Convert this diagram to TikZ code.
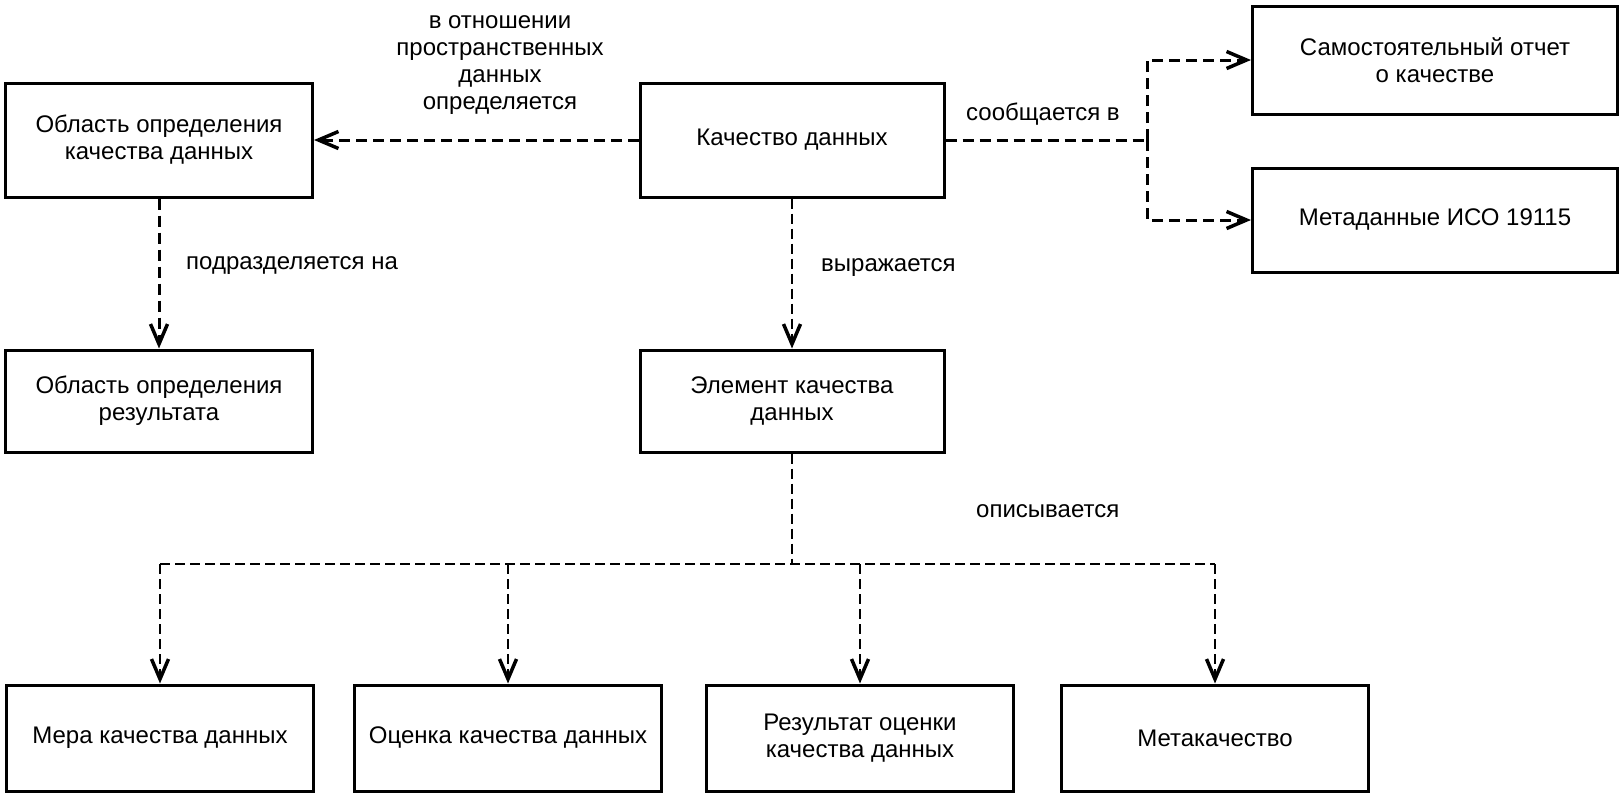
\documentclass[tikz,border=0pt]{standalone}
\usepackage{fontspec}
\setmainfont{Liberation Sans}
\usepackage{tikz}
\usetikzlibrary{positioning, calc, arrows.meta}

\tikzset{
  block/.style={draw, line width=3pt, minimum width=307pt, align=center,
    inner sep=0pt, font=\fontsize{24}{27}\selectfont},
  lbl/.style={align=center, inner sep=0pt, font=\fontsize{24}{27}\selectfont},
  conn/.style={line width=3pt, dash pattern=on 11pt off 6pt},
  connthin/.style={line width=2pt, dash pattern=on 10pt off 5pt},
}

\begin{document}
\begin{tikzpicture}[x=1pt, y=-1pt, >={Straight Barb[length=20pt, width=17pt, line width=3.5pt]}]
  \useasboundingbox (0,0) rectangle (1623,795);

  % top row
  \node[block, minimum height=114pt] (oblkach) at (159,140) {Область определения\\качества данных};
  \node[block, minimum height=114pt, minimum width=304pt] (kach) at (792,140) {Качество данных};
  \node[block, minimum height=108pt, minimum width=365pt] (otchet) at (1435,60) {Самостоятельный отчет\\о качестве};
  \node[block, minimum height=104pt, minimum width=365pt] (meta) at (1435,220) {Метаданные ИСО 19115};

  % middle row
  \node[block, minimum height=102pt] (oblres) at (159,401) {Область определения\\результата};
  \node[block, minimum height=102pt, minimum width=304pt] (elem) at (792,401) {Элемент качества\\данных};

  % bottom row
  \node[block, minimum height=106pt] (mera) at (160,738) {Мера качества данных};
  \node[block, minimum height=106pt] (ocenka) at (508,738) {Оценка качества данных};
  \node[block, minimum height=106pt] (rezult) at (860,738) {Результат оценки\\качества данных};
  \node[block, minimum height=106pt] (metakach) at (1215,738) {Метакачество};

  % labels
  \node[lbl] (lblspace) at (500,65) {в отношении\\пространственных\\данных\\определяется};
  \node[lbl, anchor=base west] (lblsoob) at (966,120) {сообщается в};
  \node[lbl, anchor=base west] (lblpodr) at (186,269) {подразделяется на};
  \node[lbl, anchor=base west] (lblvyr) at (821,271) {выражается};
  \node[lbl, anchor=base west] (lblopis) at (976,517) {описывается};

  % connectors
  \draw[conn, ->] (kach.west) -- (oblkach.east);
  \draw[conn, ->] (oblkach.south) -- (oblres.north);
  \draw[connthin, ->] (kach.south) -- (elem.north);

  \coordinate (split) at (1147,140);
  \draw[conn] (kach.east) -- (split);
  \draw[conn, ->] (split) |- (otchet.west);
  \draw[conn, ->] (split) |- (meta.west);

  \coordinate (fork) at (792,564);
  \draw[connthin] (elem.south) -- (fork);
  \draw[connthin] (fork -| mera.north) -- (fork -| metakach.north);
  \foreach \b in {mera, ocenka, rezult, metakach}
    \draw[connthin, ->] (fork -| \b.north) -- (\b.north);
\end{tikzpicture}
\end{document}
